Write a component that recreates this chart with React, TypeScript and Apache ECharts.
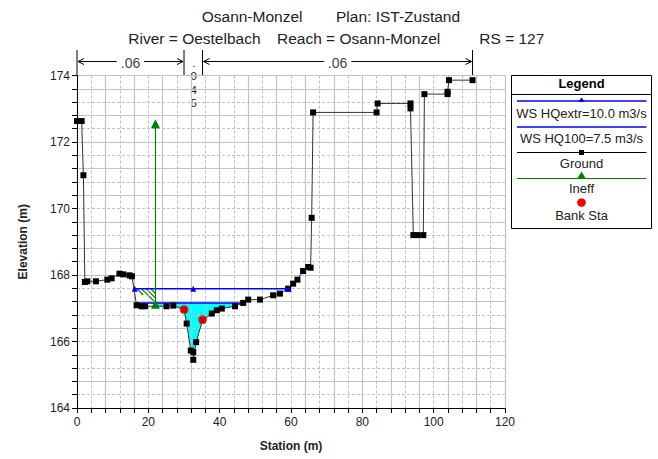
import React, { useEffect, useRef } from 'react';
import * as echarts from 'echarts';

// ---------- data ----------
const groundStation = [0, 1.3, 1.8, 2.2, 2.9, 5.3, 8.5, 9.7, 11.9, 13.0, 14.7, 15.4, 16.7, 18.1, 19.1, 25.1, 27.0, 30.0, 30.75, 31.9, 32.6, 32.6, 33.4, 35.2, 37.8, 39.2, 40.6, 44.3, 46.6, 48.0, 51.3, 55.0, 56.9, 59.2, 60.6, 61.8, 63.4, 64.8, 65.5, 65.8, 66.2, 84.0, 84.3, 93.5, 93.5, 94.3, 95.5, 97.1, 97.4, 103.9, 103.9, 104.3, 110.9];
const groundElev = [172.63, 172.63, 171.0, 167.79, 167.81, 167.81, 167.86, 167.9, 168.04, 168.02, 167.99, 167.96, 167.09, 167.06, 167.06, 167.06, 167.08, 166.96, 166.54, 165.73, 165.68, 165.45, 165.98, 166.64, 166.84, 166.94, 166.99, 167.06, 167.16, 167.26, 167.26, 167.39, 167.44, 167.59, 167.74, 167.86, 168.12, 168.24, 168.22, 169.72, 172.89, 172.89, 173.16, 173.16, 173.01, 169.2, 169.2, 169.2, 173.44, 173.44, 173.51, 173.86, 173.86];

const wsExtrStation = [16.2, 32.6, 59.2];
const wsExtrElev = 167.59;
const ws100Station = [16.9, 46.6];
const ws100Elev = 167.16;
const ws100FillFrom = 22.0;

const ineffStation = [22.0, 22.0];
const ineffElev = [167.12, 172.55];
const hatchStation = [16.2, 22.0, 22.0];
const hatchElev = [167.59, 167.59, 167.12];

const bankStation = [30.0, 35.2];
const bankElev = [166.96, 166.66];

const manningBreaks = [0, 30.0, 35.2, 110.9];
const manningValues = ['.06', '.045', '.06'];

const xTickLabels = [0, 20, 40, 60, 80, 100, 120];
const yTickLabels = [164, 166, 168, 170, 172, 174];

const titleLine1 = ['Osann-Monzel', 'Plan: IST-Zustand'];
const titleLine2 = ['River = Oestelbach', 'Reach = Osann-Monzel', 'RS = 127'];
const legendNames = ['WS HQextr=10.0 m3/s', 'WS HQ100=7.5 m3/s', 'Ground', 'Ineff', 'Bank Sta'];

// ---------- styles ----------
const FONT = '"Liberation Sans", Arial, sans-serif';
const BLUE = '#0000ff';
const GREEN = '#008000';
const RED = '#ff0000';
const CYAN = '#00ffff';
const TXT = '#222';
const GRID_SOLID = '#c6c6c6';
const GRID_DASH = '#c0c0c0';

export default function App() {
  const ref = useRef<HTMLDivElement>(null);

  useEffect(() => {
    if (!ref.current) return;
    const chart = echarts.init(ref.current, undefined, { renderer: 'svg' });

    const groundData = groundStation.map((s, i) => [s, groundElev[i]]);

    const option: any = {
      animation: false,
      backgroundColor: '#fff',
      grid: { left: 77, right: 153, top: 75.5, bottom: 51, containLabel: false },
      xAxis: [
        {
          type: 'value', min: 0, max: 120, interval: 4, position: 'bottom',
          axisLine: { show: true, lineStyle: { color: '#000', width: 1 } },
          axisTick: { show: true, length: 5, lineStyle: { color: '#000' } },
          axisLabel: {
            show: true, margin: 8, color: TXT, fontSize: 12, fontFamily: FONT,
            formatter: (v: number) => (xTickLabels.some((t) => Math.abs(t - v) < 1e-6) ? String(Math.round(v)) : ''),
          },
          splitLine: { show: true, lineStyle: { color: GRID_DASH, type: [3, 2], width: 1 } },
          name: 'Station (m)', nameLocation: 'middle', nameGap: 32,
          nameTextStyle: { fontFamily: FONT, fontSize: 12, fontWeight: 'bold', color: TXT },
          z: 3,
        },
        {
          type: 'value', min: 0, max: 120, interval: 8, position: 'bottom',
          axisLine: { show: false }, axisTick: { show: false }, axisLabel: { show: false },
          splitLine: { show: true, lineStyle: { color: GRID_SOLID, width: 1.2 } },
          z: 1,
        },
      ],
      yAxis: [
        {
          type: 'value', min: 164, max: 174, interval: 0.4, position: 'left',
          axisLine: { show: true, lineStyle: { color: '#000', width: 1 } },
          axisTick: { show: true, length: 5, lineStyle: { color: '#000' } },
          axisLabel: {
            show: true, margin: 7, color: TXT, fontSize: 12, fontFamily: FONT,
            formatter: (v: number) => (yTickLabels.some((t) => Math.abs(t - v) < 1e-6) ? String(Math.round(v)) : ''),
          },
          splitLine: { show: true, lineStyle: { color: GRID_DASH, type: [3, 2], width: 1 } },
          name: 'Elevation (m)', nameLocation: 'middle', nameGap: 48,
          nameTextStyle: { fontFamily: FONT, fontSize: 12, fontWeight: 'bold', color: TXT },
          z: 3,
        },
        {
          type: 'value', min: 164, max: 174, interval: 0.8, position: 'left',
          axisLine: { show: false }, axisTick: { show: false }, axisLabel: { show: false },
          splitLine: { show: true, lineStyle: { color: GRID_SOLID, width: 1.2 } },
          z: 1,
        },
      ],
      series: [
        {
          name: 'fill',
          type: 'custom',
          xAxisIndex: 0, yAxisIndex: 0, z: 1,
          data: [[ws100FillFrom, ws100Elev]],
          renderItem: (_p: any, api: any) => {
            const right = ws100Station[1];
            const pts: number[][] = [];
            pts.push(api.coord([ws100FillFrom, ws100Elev]));
            pts.push(api.coord([right, ws100Elev]));
            for (let i = groundStation.length - 1; i >= 0; i--) {
              const s = groundStation[i];
              if (s > ws100FillFrom && s < right) {
                pts.push(api.coord([s, Math.min(groundElev[i], ws100Elev)]));
              }
            }
            for (let i = 0; i + 1 < groundStation.length; i++) {
              const a = groundStation[i], b = groundStation[i + 1];
              if (a <= ws100FillFrom && b >= ws100FillFrom && b > a) {
                const t = (ws100FillFrom - a) / (b - a);
                const e = groundElev[i] + t * (groundElev[i + 1] - groundElev[i]);
                pts.push(api.coord([ws100FillFrom, Math.min(e, ws100Elev)]));
                break;
              }
            }
            return { type: 'polygon', shape: { points: pts }, style: { fill: CYAN, stroke: 'none' } };
          },
        },
        {
          name: 'hatch',
          type: 'custom',
          xAxisIndex: 0, yAxisIndex: 0, z: 2,
          data: [[hatchStation[0], hatchElev[0]]],
          renderItem: (_p: any, api: any) => {
            const pts = hatchStation.map((s, i) => api.coord([s, hatchElev[i]]));
            const cs = pts.map((p: number[]) => p[1] - p[0]);
            const cmin = Math.min(...cs), cmax = Math.max(...cs);
            const step = 4.6;
            const children: any[] = [];
            for (let c = Math.ceil(cmin / step) * step; c <= cmax; c += step) {
              const xs: number[][] = [];
              for (let i = 0; i < pts.length; i++) {
                const p = pts[i], q = pts[(i + 1) % pts.length];
                const fp = p[1] - p[0] - c, fq = q[1] - q[0] - c;
                if ((fp <= 0 && fq > 0) || (fp > 0 && fq <= 0)) {
                  const t = fp / (fp - fq);
                  xs.push([p[0] + t * (q[0] - p[0]), p[1] + t * (q[1] - p[1])]);
                }
              }
              xs.sort((a, b) => a[0] - b[0]);
              for (let k = 0; k + 1 < xs.length; k += 2) {
                children.push({
                  type: 'line',
                  shape: { x1: xs[k][0], y1: xs[k][1], x2: xs[k + 1][0], y2: xs[k + 1][1] },
                  style: { stroke: GREEN, lineWidth: 1.2 },
                });
              }
            }
            return { type: 'group', children };
          },
        },
        {
          name: 'WS HQ100=7.5 m3/s',
          type: 'line', xAxisIndex: 0, yAxisIndex: 0, z: 4,
          data: ws100Station.map((s) => [s, ws100Elev]),
          showSymbol: false, symbol: 'none',
          lineStyle: { color: BLUE, width: 1.5 },
        },
        {
          name: 'Ground',
          type: 'line', xAxisIndex: 0, yAxisIndex: 0, z: 5,
          data: groundData,
          symbol: 'rect', symbolSize: 6,
          itemStyle: { color: '#000' },
          lineStyle: { color: '#333', width: 1 },
        },
        {
          name: 'WS HQextr=10.0 m3/s',
          type: 'line', xAxisIndex: 0, yAxisIndex: 0, z: 6,
          data: wsExtrStation.map((s) => [s, wsExtrElev]),
          symbol: 'triangle', symbolSize: 6,
          itemStyle: { color: BLUE },
          lineStyle: { color: BLUE, width: 1.5 },
        },
        {
          name: 'Ineff',
          type: 'line', xAxisIndex: 0, yAxisIndex: 0, z: 6,
          data: ineffStation.map((s, i) => [s, ineffElev[i]]),
          symbol: 'triangle', symbolSize: 9,
          itemStyle: { color: GREEN },
          lineStyle: { color: GREEN, width: 1.2 },
        },
        {
          name: 'Bank Sta',
          type: 'scatter', xAxisIndex: 0, yAxisIndex: 0, z: 7,
          data: bankStation.map((s, i) => [s, bankElev[i]]),
          symbol: 'circle', symbolSize: 9,
          itemStyle: { color: RED },
        },
      ],
    };

    chart.setOption(option);

    // ---------- graphics: title, manning's n, legend ----------
    const g: any[] = [];
    const titleFont = `15.5px ${FONT}`;
    const t1x = [201.7, 336];
    titleLine1.forEach((t, i) =>
      g.push({ type: 'text', x: t1x[i], y: 16, style: { text: t, font: titleFont, fill: TXT, textVerticalAlign: 'middle' } })
    );
    const t2x = [128.3, 277, 479.3];
    titleLine2.forEach((t, i) =>
      g.push({ type: 'text', x: t2x[i], y: 38.5, style: { text: t, font: titleFont, fill: TXT, textVerticalAlign: 'middle' } })
    );

    const toPx = (s: number) => chart.convertToPixel({ xAxisIndex: 0, yAxisIndex: 0 }, [s, 174])[0];
    const ay = 61.5;
    const bxs = manningBreaks.map(toPx);
    bxs.forEach((bx) =>
      g.push({ type: 'line', shape: { x1: bx, y1: 50, x2: bx, y2: 75.5 }, style: { stroke: '#000', lineWidth: 1 } })
    );
    manningValues.forEach((v, i) => {
      const x0 = bxs[i], x1 = bxs[i + 1];
      const cx = (x0 + x1) / 2;
      if (x1 - x0 > 40) {
        g.push({ type: 'line', shape: { x1: x0 + 1, y1: ay, x2: x1 - 1, y2: ay }, style: { stroke: '#000', lineWidth: 1 } });
        g.push({ type: 'polyline', shape: { points: [[x0 + 7, ay - 3], [x0 + 1, ay], [x0 + 7, ay + 3]] }, style: { stroke: '#000', lineWidth: 1, fill: 'none' } });
        g.push({ type: 'polyline', shape: { points: [[x1 - 7, ay - 3], [x1 - 1, ay], [x1 - 7, ay + 3]] }, style: { stroke: '#000', lineWidth: 1, fill: 'none' } });
        g.push({
          type: 'text', x: cx, y: ay + 1,
          style: { text: v, font: `14px ${FONT}`, fill: '#444', textAlign: 'center', textVerticalAlign: 'middle', backgroundColor: '#fff', padding: [0, 4] },
        });
      } else {
        v.split('').forEach((ch, k) =>
          g.push({
            type: 'text', x: cx + 0.5, y: 62.5 + k * 13.6,
            style: { text: ch, font: `11.5px ${FONT}`, fill: TXT, textAlign: 'center', textVerticalAlign: 'middle' },
          })
        );
      }
    });

    // legend box
    const LX = 511.5, LW = 140, LY = 75.5, LH = 153;
    const lcx = LX + LW / 2;
    const lx1 = 517, lx2 = 646.5;
    g.push({ type: 'rect', shape: { x: LX, y: LY, width: LW, height: LH }, style: { fill: '#fff', stroke: '#000', lineWidth: 1 }, z: 10 });
    g.push({ type: 'text', x: lcx, y: 83, style: { text: 'Legend', font: `bold 13px ${FONT}`, fill: '#000', textAlign: 'center', textVerticalAlign: 'middle' }, z: 11 });
    g.push({ type: 'line', shape: { x1: LX, y1: 94.5, x2: LX + LW, y2: 94.5 }, style: { stroke: '#000', lineWidth: 1 }, z: 11 });
    const lt = (y: number, text: string) =>
      g.push({ type: 'text', x: lcx, y, style: { text, font: `13px ${FONT}`, fill: TXT, textAlign: 'center', textVerticalAlign: 'middle' }, z: 11 });
    const ll = (y: number, color: string, w: number) =>
      g.push({ type: 'line', shape: { x1: lx1, y1: y, x2: lx2, y2: y }, style: { stroke: color, lineWidth: w }, z: 11 });
    ll(101, BLUE, 1.5);
    g.push({ type: 'polygon', shape: { points: [[lcx, 97.5], [lcx - 3.5, 102], [lcx + 3.5, 102]] }, style: { fill: BLUE }, z: 12 });
    lt(113, legendNames[0]);
    ll(127, BLUE, 1.5);
    lt(138.5, legendNames[1]);
    ll(152.5, '#000', 1);
    g.push({ type: 'rect', shape: { x: lcx - 2.5, y: 150, width: 5, height: 5 }, style: { fill: '#000' }, z: 12 });
    lt(163.5, legendNames[2]);
    ll(178.5, GREEN, 1.2);
    g.push({ type: 'polygon', shape: { points: [[lcx, 171.5], [lcx - 4.5, 179], [lcx + 4.5, 179]] }, style: { fill: GREEN }, z: 12 });
    lt(188.5, legendNames[3]);
    g.push({ type: 'circle', shape: { cx: lcx, cy: 202.5, r: 4.3 }, style: { fill: RED }, z: 12 });
    lt(215, legendNames[4]);

    chart.setOption({ graphic: g });

    return () => chart.dispose();
  }, []);

  return (
    <div
      ref={ref}
      style={{ position: 'fixed', left: 0, top: 0, width: 658, height: 459, background: '#fff' }}
    />
  );
}
